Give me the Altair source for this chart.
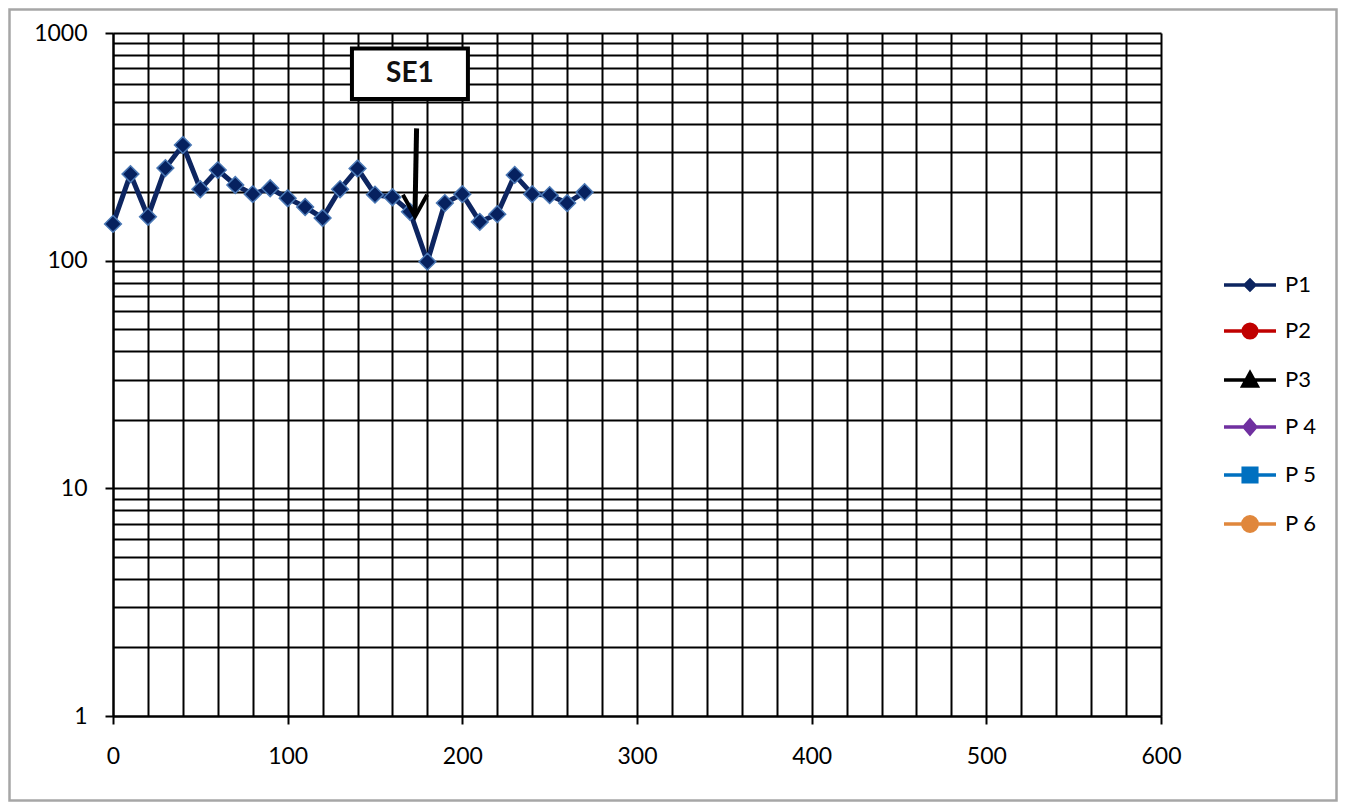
import altair as alt
import pandas as pd

# ---- data ----
P1_X = [0, 10, 20, 30, 40, 50, 60, 70, 80, 90, 100, 110, 120, 130, 140,
        150, 160, 170, 180, 190, 200, 210, 220, 230, 240, 250, 260, 270]
P1_Y = [145, 240, 156, 255, 322, 206, 250, 215, 196, 208, 188, 172, 154, 206, 254,
        195, 190, 164, 99, 179, 196, 148, 160, 238, 196, 194, 179, 200]

SERIES = ["P1", "P2", "P3", "P 4", "P 5", "P 6"]
COLORS = ["#0d2560", "#c00000", "#000000", "#7030a0", "#0070c0", "#e0873c"]

X_GRID = list(range(0, 601, 20))
Y_GRID = [m * 10 ** e for e in range(3) for m in range(1, 10)] + [1000]
Y_TICKS = [1, 10, 100, 1000]

NOTE_TEXT = ["SE1"]
NOTE_X = [170.0]
NOTE_Y = [661]
BOX_X = [136.8, 203.2]
BOX_Y = [513, 855]
ARROW_X = [173.8, 172.9]
ARROW_Y = [381, 156]

FONT = "Lato"
LINE_COLOR = "#0d2560"

LEG_LINE = "M -2.6 0 L 2.6 0 "
SHAPES = [
    LEG_LINE + "M -0.48 0 L 0 -0.48 L 0.48 0 L 0 0.48 Z",
    LEG_LINE + "M -0.68 0 A 0.68 0.68 0 1 0 0.68 0 A 0.68 0.68 0 1 0 -0.68 0 Z",
    LEG_LINE + "M 0 -0.72 L 0.72 0.6 L -0.72 0.6 Z",
    LEG_LINE + "M -0.58 0 L 0 -0.68 L 0.58 0 L 0 0.68 Z",
    LEG_LINE + "M -0.68 -0.68 L 0.68 -0.68 L 0.68 0.68 L -0.68 0.68 Z",
    LEG_LINE + "M -0.72 0 A 0.72 0.72 0 1 0 0.72 0 A 0.72 0.72 0 1 0 -0.72 0 Z",
]

W, H = 1048, 683
PAD = {"left": 105, "top": 25, "right": 177, "bottom": 86}

df = pd.DataFrame({"x": P1_X, "y": P1_Y, "series": "P1"})

xscale = alt.Scale(domain=[0, 600], nice=False, zero=False)
yscale = alt.Scale(type="log", domain=[1, 1000], nice=False)

x_axis = alt.Axis(
    values=X_GRID, title=None, grid=True, gridColor="black", gridWidth=2, gridOpacity=1,
    domainColor="black", domainWidth=2, tickColor="black", tickWidth=2, tickSize=8,
    tickOpacity={"condition": {"test": "datum.value % 100 === 0", "value": 1}, "value": 0},
    labelExpr="datum.value % 100 === 0 ? datum.label : ''",
    labelFont=FONT, labelFontSize=23, labelColor="black", labelPadding=21,
    labelFlush=False, labelOverlap=False,
)
y_axis = alt.Axis(
    values=Y_GRID, title=None, grid=True, gridColor="black", gridWidth=2, gridOpacity=1,
    domainColor="black", domainWidth=2, tickColor="black", tickWidth=2, tickSize=8,
    tickOpacity={"condition": {"test": "indexof([1,10,100,1000], datum.value) >= 0", "value": 1}, "value": 0},
    labelExpr="indexof([1,10,100,1000], datum.value) >= 0 ? datum.label : ''",
    format="d",
    labelFont=FONT, labelFontSize=23, labelColor="black", labelPadding=18,
    labelFlush=False, labelOverlap=False,
)


def X():
    return alt.X("x:Q", scale=xscale, axis=x_axis)


def Y():
    return alt.Y("y:Q", scale=yscale, axis=y_axis)


line = alt.Chart(df).mark_line(color=LINE_COLOR, strokeWidth=5).encode(x=X(), y=Y())

points = alt.Chart(df).mark_point(
    shape="diamond", filled=True, size=280, fill="#06215f", stroke="#4a78b5",
    strokeWidth=1.5, opacity=1,
).encode(x=X(), y=Y())

leg = alt.Legend(
    title=None, orient="none", legendX=1125, legendY=240, direction="vertical",
    symbolSize=400, symbolStrokeWidth=3.5, symbolOpacity=1,
    labelFont=FONT, labelFontSize=22, labelColor="black", labelOffset=23,
    rowPadding=20,
)
legend_df = pd.DataFrame({"series": SERIES, "x": [0] * 6, "y": [1] * 6})
legend_layer = alt.Chart(legend_df).transform_filter("false").mark_point(
    filled=True, strokeWidth=3.5, opacity=1
).encode(
    x=X(), y=Y(),
    fill=alt.Fill("series:N", scale=alt.Scale(domain=SERIES, range=COLORS), legend=leg),
    stroke=alt.Stroke("series:N", scale=alt.Scale(domain=SERIES, range=COLORS), legend=leg),
    shape=alt.Shape("series:N", scale=alt.Scale(domain=SERIES, range=SHAPES), legend=leg),
)

box_df = pd.DataFrame({"x": [BOX_X[0]], "x2": [BOX_X[1]], "y": [BOX_Y[0]], "y2": [BOX_Y[1]]})
box = alt.Chart(box_df).mark_rect(fill="white", stroke="black", strokeWidth=4).encode(
    x=X(), x2="x2:Q", y=Y(), y2="y2:Q",
)

note_df = pd.DataFrame({"x": NOTE_X, "y": NOTE_Y, "t": NOTE_TEXT})
note = alt.Chart(note_df).mark_text(
    font=FONT, fontSize=28, fontWeight="bold", color="#111111", baseline="middle", align="center"
).encode(x=X(), y=Y(), text="t:N")

arrow_df = pd.DataFrame({"x": [ARROW_X[0]], "x2": [ARROW_X[1]], "y": [ARROW_Y[0]], "y2": [ARROW_Y[1] + 6]})
shaft = alt.Chart(arrow_df).mark_rule(color="black", strokeWidth=5).encode(
    x=X(), x2="x2:Q", y=Y(), y2="y2:Q",
)
head_df = pd.DataFrame({"x": [ARROW_X[1]], "y": [ARROW_Y[1]]})
head = alt.Chart(head_df).mark_point(
    shape="M -0.55 -1 L 0 0 L 0.55 -1", filled=False, size=1936, stroke="black",
    strokeWidth=4, opacity=1,
).encode(x=X(), y=Y())

frame = alt.Chart(pd.DataFrame({"a": [0]})).mark_rect(
    fillOpacity=0, stroke="#a6a6a6", strokeWidth=2.5
).encode(
    x=alt.value(-PAD["left"] + 1.5), x2=alt.value(W + PAD["right"] - 1.5),
    y=alt.value(-PAD["top"] + 1.5), y2=alt.value(H + PAD["bottom"] - 1.5),
)

chart = alt.layer(
    line, frame, box, note, points, shaft, head, legend_layer
).properties(
    width=W, height=H, padding=PAD,
    autosize=alt.AutoSizeParams(type="none"),
    background="white",
).configure_view(stroke=None)

chart.save("out.html", embed_options={"renderer": "svg", "actions": False})
